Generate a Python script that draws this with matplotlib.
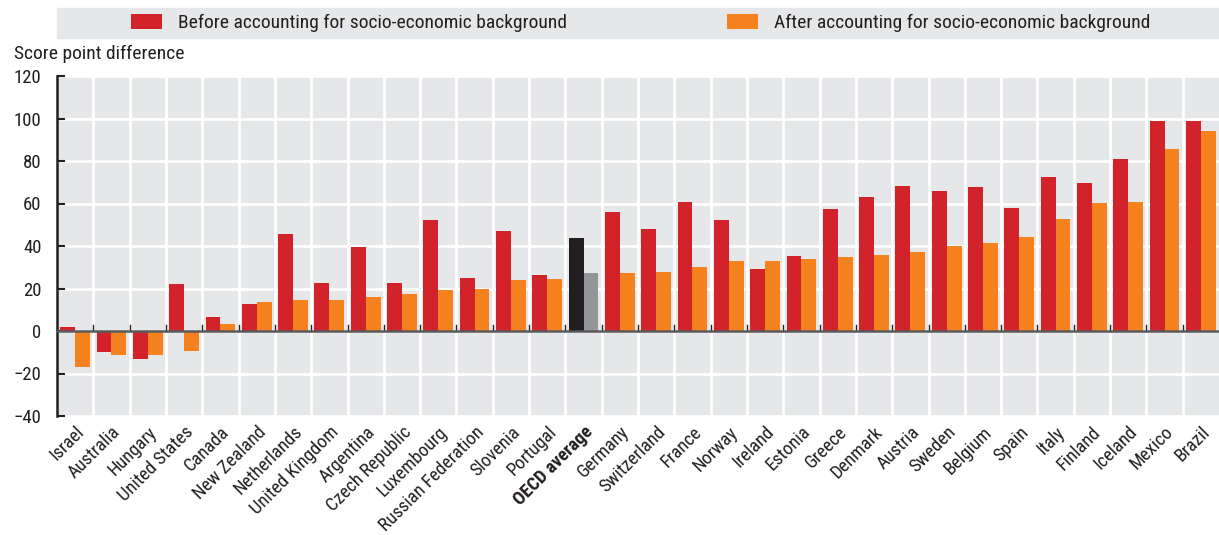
import matplotlib.pyplot as plt
import matplotlib.patches as mpatches
import numpy as np

plt.rcParams['font.family'] = ['Roboto Condensed', 'Liberation Sans Narrow', 'Liberation Sans', 'DejaVu Sans']

countries = ["Israel", "Australia", "Hungary", "United States", "Canada", "New Zealand",
             "Netherlands", "United Kingdom", "Argentina", "Czech Republic", "Luxembourg",
             "Russian Federation", "Slovenia", "Portugal", "OECD average", "Germany",
             "Switzerland", "France", "Norway", "Ireland", "Estonia", "Greece", "Denmark",
             "Austria", "Sweden", "Belgium", "Spain", "Italy", "Finland", "Iceland",
             "Mexico", "Brazil"]
before = [2, -10, -13, 22, 6.5, 12.6, 45.7, 22.6, 39.5, 22.6, 52.3,
          25, 47.1, 26.3, 43.8, 56, 48, 60.7, 52.3, 29.2, 35.3, 57.4, 63.1,
          68.3, 65.9, 67.8, 57.9, 72.5, 69.7, 81, 99, 99]
after = [-17, -11.5, -11.5, -9.4, 3.2, 13.6, 14.5, 14.5, 15.9, 17.3, 19.2,
         19.7, 24, 24.4, 27.3, 27.3, 27.7, 30.1, 32.9, 32.9, 33.9, 34.7, 35.6,
         37.1, 39.9, 41.3, 44.1, 52.6, 60.2, 60.7, 85.8, 94.3]
legend_labels = ["Before accounting for socio-economic background",
                 "After accounting for socio-economic background"]

RED = '#d2232a'
ORANGE = '#f5821f'
TXT = '#231f20'
BG = '#e6e7e8'

W, H = 1219, 535
fig = plt.figure(figsize=(W / 100, H / 100), dpi=100)
ax = fig.add_axes([57 / W, 1 - 416 / H, (W - 57) / W, (416 - 76) / H])
ax.set_facecolor(BG)

x = np.arange(len(countries))
bw = 0.41
c_before = [TXT if c == "OECD average" else RED for c in countries]
c_after = ['#939598' if c == "OECD average" else ORANGE for c in countries]
b1 = ax.bar(x - bw / 2, before, bw, color=c_before, zorder=3)
b2 = ax.bar(x + bw / 2, after, bw, color=c_after, zorder=3)

ax.set_xlim(-0.5, len(countries) - 0.5)
ax.set_ylim(-40, 120)
ax.set_yticks(np.arange(-40, 121, 20))
ax.set_xticks(x)
ax.set_xticklabels(countries, rotation=45, ha='right', rotation_mode='anchor',
                   fontsize=13.3, color=TXT)
ax.tick_params(axis='x', length=0, pad=5)
ax.tick_params(axis='y', direction='in', length=6, width=1.5, color=TXT,
               labelsize=13.5, labelcolor=TXT, pad=11)
for lab in ax.get_xticklabels():
    if lab.get_text() == "OECD average":
        lab.set_fontweight('bold')

# white grid
for yv in np.arange(-40, 121, 20):
    ax.axhline(yv, color='white', lw=2, zorder=1)
for xv in x[1:] - 0.5:
    ax.axvline(xv, color='white', lw=2, zorder=1)
    ax.plot([xv, xv], [0, 3], color=TXT, lw=1, zorder=4)
ax.axhline(0, color='#58595b', lw=1.8, zorder=4)

for s in ['top', 'right', 'bottom']:
    ax.spines[s].set_visible(False)
ax.spines['left'].set_color(TXT)
ax.spines['left'].set_linewidth(1.8)

fig.text(14 / W, 1 - 54 / H, "Score point difference", fontsize=14, color=TXT,
         va='center', ha='left')

# legend band
fig.patches.append(mpatches.Rectangle((57 / W, 1 - 38 / H), (W - 57) / W, 30 / H,
                                      transform=fig.transFigure, color=BG, zorder=0))
fig.legend([b1[0], b2[0]], legend_labels, ncol=2, frameon=False,
           loc='center left', bbox_to_anchor=(113 / W, 1 - 23 / H),
           fontsize=14, handlelength=1.6, handleheight=0.82, handletextpad=0.82,
           columnspacing=8.25, labelcolor=TXT)

fig.savefig('out.png', dpi=100)
